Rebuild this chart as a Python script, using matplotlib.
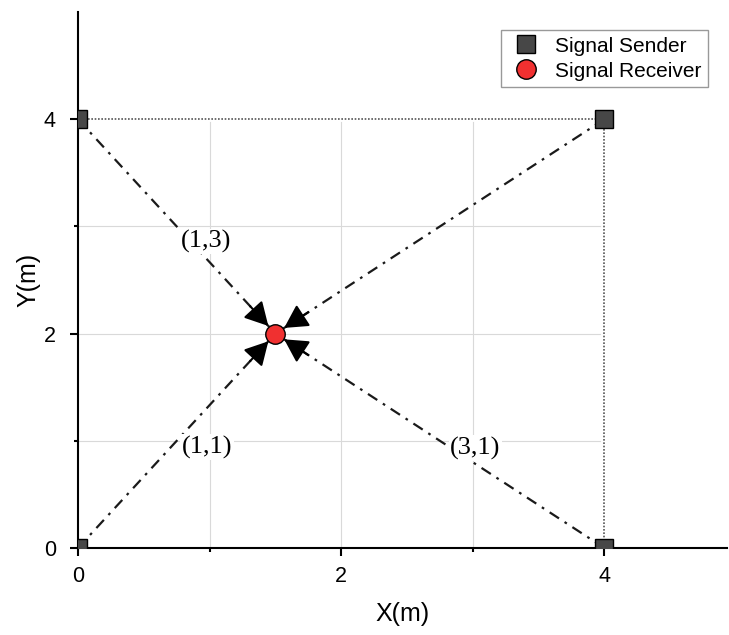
import matplotlib
matplotlib.use("Agg")
import matplotlib.pyplot as plt

plt.rcParams["font.family"] = ["Liberation Sans", "DejaVu Sans"]

# senders at the corners, receiver in the middle
sender_x = [0, 4, 0, 4]
sender_y = [4, 4, 0, 0]
receiver_x = [1.5]
receiver_y = [2]

# labels along the signal paths
path_labels = ["(1,3)", "(1,1)", "(3,1)"]
label_x = [0.97, 0.98, 3.02]
label_y = [2.86, 0.94, 0.93]

fig = plt.figure(figsize=(7.29, 6.35), dpi=100)
ax = fig.add_axes([0.107, 0.137, 0.890, 0.844])

# light grid only inside the square
for v in [1, 2, 3]:
    ax.plot([v, v], [0, 3.97], color="#d9d9d9", lw=0.8, zorder=0)
    ax.plot([0, 3.97], [v, v], color="#d9d9d9", lw=0.8, zorder=0)

# dotted square edges
ax.plot([0, 4], [4, 4], color="#555555", lw=1.2, ls=(0, (1, 1)), zorder=1)
ax.plot([4, 4], [4, 0], color="#555555", lw=1.2, ls=(0, (1, 1)), zorder=1)

# dash-dot signal paths with arrowheads at the receiver
rx, ry = receiver_x[0], receiver_y[0]
for sx, sy in zip(sender_x, sender_y):
    ax.plot([sx, rx], [sy, ry], color="#1a1a1a", lw=1.6,
            ls=(0, (5, 3, 1.2, 3)), zorder=2)
    dx, dy = sx - rx, sy - ry
    d = (dx ** 2 + dy ** 2) ** 0.5
    start = (rx + dx / d * 0.32, ry + dy / d * 0.32)
    ax.annotate("", xy=(rx, ry), xytext=start,
                arrowprops=dict(arrowstyle="-|>,head_length=1.1,head_width=0.6",
                                color="black", lw=1.5, shrinkA=0, shrinkB=7.5,
                                mutation_scale=13),
                zorder=3)

for t, x, y in zip(path_labels, label_x, label_y):
    ax.text(x, y, t, family=["Liberation Serif", "DejaVu Serif"], fontsize=19,
            ha="center", va="center", zorder=4,
            bbox=dict(facecolor="white", edgecolor="none", pad=1.0))

ax.plot(sender_x, sender_y, ls="none", marker="s", markersize=12.5,
        markerfacecolor="#474747", markeredgecolor="black", markeredgewidth=1,
        label="Signal Sender", zorder=5)
ax.plot(receiver_x, receiver_y, ls="none", marker="o", markersize=14,
        markerfacecolor="#f03030", markeredgecolor="black", markeredgewidth=1,
        label="Signal Receiver", zorder=6)

ax.set_xlim(0, 4.93)
ax.set_ylim(0, 5)
ax.set_xticks([0, 2, 4])
ax.set_yticks([0, 2, 4])
ax.set_xticks([1, 3], minor=True)
ax.set_yticks([1, 3], minor=True)
ax.tick_params(which="major", direction="out", length=6, width=1.5, labelsize=15.5)
ax.tick_params(which="minor", direction="out", length=3, width=1.5)
ax.tick_params(axis="x", pad=7)
ax.tick_params(axis="y", pad=10)
ax.spines["top"].set_visible(False)
ax.spines["right"].set_visible(False)
ax.spines["left"].set_linewidth(1.5)
ax.spines["bottom"].set_linewidth(1.5)

ax.set_xlabel("X(m)", fontsize=18, labelpad=11)
ax.set_ylabel("Y(m)", fontsize=18, labelpad=2)

leg = ax.legend(loc="upper right", bbox_to_anchor=(0.971, 0.966), fontsize=15,
                fancybox=False, edgecolor="#999999", framealpha=1,
                handletextpad=0.5, borderpad=0.3, labelspacing=0.3,
                handlelength=1.8, borderaxespad=0)
leg.get_frame().set_linewidth(1)

fig.savefig("out.png", dpi=100)
